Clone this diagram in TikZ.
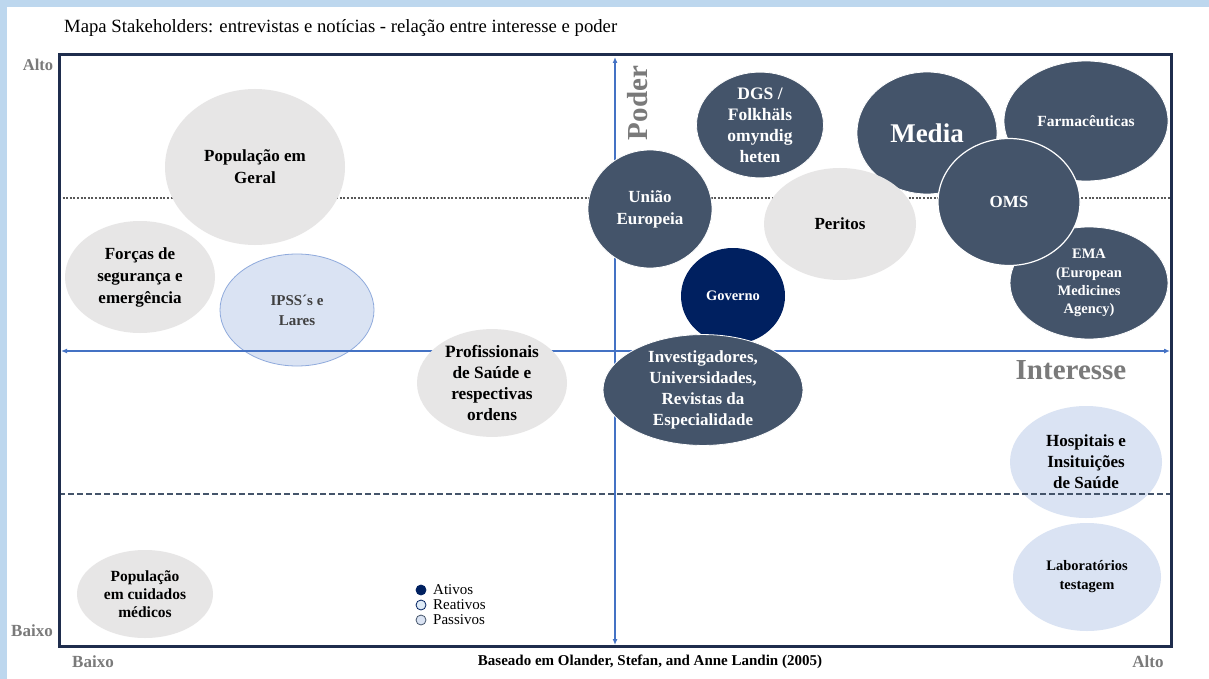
\documentclass[tikz,border=0pt]{standalone}
\usepackage{fontspec}
\setmainfont{Liberation Serif}
\usetikzlibrary{shapes.geometric,arrows.meta}
\definecolor{bandblue}{HTML}{BDD7EE}
\definecolor{navy}{HTML}{44546A}
\definecolor{govblue}{HTML}{002060}
\definecolor{lgray}{HTML}{E7E6E6}
\definecolor{lblue}{HTML}{DAE3F3}
\definecolor{lbluedraw}{HTML}{8FAADC}
\definecolor{framecol}{HTML}{1F2D4D}
\definecolor{axiscol}{HTML}{4472C4}
\definecolor{labgray}{HTML}{7A7A7A}
\definecolor{dotcol}{HTML}{595959}
\definecolor{reafill}{HTML}{DEEBF7}
\newcommand{\fs}[2]{\fontsize{#1}{#2}\selectfont}
\tikzset{
  ell/.style={ellipse, inner sep=0pt, align=center, font=\bfseries},
  grayell/.style={ell, fill=lgray, text=black},
  navyell/.style={ell, fill=navy, draw=white, line width=0.8pt, text=white},
  blueell/.style={ell, fill=lblue, text=black},
  axisline/.style={draw=axiscol, line width=1.5pt, {Latex[length=6pt,width=5pt]}-{Latex[length=6pt,width=5pt]}},
  sidelab/.style={font=\bfseries, text=labgray},
  legdot/.style={circle, minimum size=10pt, inner sep=0pt, line width=0.8pt},
  legtxt/.style={anchor=west, inner sep=0pt, font=\fs{15}{15}, text=black}
}
\begin{document}
\begin{tikzpicture}[x=1pt,y=-1pt]
\useasboundingbox (0,0) rectangle (1209,679);
\fill[bandblue] (0,0) rectangle (1209,679);
\fill[white] (7,7) rectangle (1209,679);

% dotted line
\coordinate (dotL) at (59,198);
\coordinate (dotR) at (1171,198);
\draw[dotcol, line width=2pt, dash pattern=on 2pt off 1.6pt] (dotL) -- (dotR);

% IPSS below axis
\node[blueell, draw=lbluedraw, line width=0.8pt, minimum width=154pt, minimum height=112pt, text=black!75, font=\bfseries\fs{15}{20}] (ipss) at (297,310) {IPSS´s e\\Lares};

% axes
\coordinate (vtop) at (615,57);
\coordinate (vbot) at (615,645);
\coordinate (hl) at (61,351);
\coordinate (hr) at (1170,351);
\draw[axisline] (vbot) -- (vtop);
\draw[axisline] (hl) -- (hr);

% ellipses
\node[grayell, minimum width=180pt, minimum height=156pt, font=\bfseries\fs{17}{22}] (popg) at (255,167) {População em\\Geral};
\node[grayell, minimum width=150pt, minimum height=112pt, font=\bfseries\fs{17}{22}] (forcas) at (140,277) {Forças de\\segurança e\\emergência};
\node[grayell, minimum width=150pt, minimum height=102pt, font=\bfseries\fs{17.3}{21.3}] (prof) at (492,383) {Profissionais\\de Saúde e\\respectivas\\ordens};
\node[grayell, minimum width=136pt, minimum height=88pt, font=\bfseries\fs{15.5}{18}] (popc) at (145,594) {População\\em cuidados\\médicos};
\node[navyell, minimum width=127pt, minimum height=102pt, font=\bfseries\fs{17.5}{21}] (dgs) at (760,125) {DGS /\\Folkhäls\\omyndig\\heten};
\node[navyell, minimum width=124pt, minimum height=118pt, font=\bfseries\fs{17}{22}] (ue) at (650,209) {União\\Europeia};
\node[navyell, minimum width=140pt, minimum height=122pt, font=\bfseries\fs{27}{30}] (media) at (927,133) {Media};
\node[grayell, minimum width=152pt, minimum height=112pt, font=\bfseries\fs{17}{21}] (peritos) at (840,224) {Peritos};
\node[ell, fill=govblue, text=white, minimum width=104pt, minimum height=96pt, font=\bfseries\fs{14.5}{18}] (gov) at (733,296) {Governo};
\node[navyell, minimum width=200pt, minimum height=102pt, font=\bfseries\fs{17}{21}] (inv) at (703,390) {Investigadores,\\Universidades,\\Revistas da\\Especialidade};
\node[navyell, minimum width=164pt, minimum height=120pt, font=\bfseries\fs{15.5}{19}] (farm) at (1086,121) {Farmacêuticas};
\node[navyell, minimum width=158pt, minimum height=112pt, font=\bfseries\fs{14.5}{18.3}] (ema) at (1089,283) {EMA\\(European\\Medicines\\Agency)};
\node[navyell, line width=1.2pt, minimum width=142pt, minimum height=127pt, font=\bfseries\fs{17}{21}] (oms) at (1009,202) {OMS};
\node[blueell, minimum width=152pt, minimum height=112pt, font=\bfseries\fs{17}{21}] (hosp) at (1086,462) {Hospitais e\\Insituições\\de Saúde};
\node[blueell, minimum width=148pt, minimum height=108pt, font=\bfseries\fs{14.5}{19}] (lab) at (1087,577) {Laboratórios\\testagem};

% dashed line
\coordinate (dashL) at (59,494);
\coordinate (dashR) at (1171,494);
\draw[navy, line width=1.5pt, dash pattern=on 6pt off 3pt] (dashL) -- (dashR);

% frame
\draw[framecol, line width=3pt] (59,55) rectangle (1171,646);

% texts
\node[anchor=west, inner sep=0pt, font=\fs{18.7}{20}] (title) at (64,28) {Mapa Stakeholders: entrevistas e notícias - relação entre interesse e poder};
\node[sidelab, font=\bfseries\fs{16.5}{18}] (altoL) at (38,65) {Alto};
\node[sidelab, font=\bfseries\fs{17}{18}] (baixoL) at (32,631) {Baixo};
\node[sidelab, font=\bfseries\fs{17}{18}] (baixoB) at (93,662) {Baixo};
\node[sidelab, font=\bfseries\fs{17}{18}] (altoB) at (1148,662) {Alto};
\node[font=\bfseries\fs{15}{16}] (src) at (650,662) {Baseado em Olander, Stefan, and Anne Landin (2005)};
\node[sidelab, rotate=90, font=\bfseries\fs{29}{30}] (poder) at (638,103) {Poder};
\node[sidelab, font=\bfseries\fs{29}{30}] (interesse) at (1071,370) {Interesse};

% legend
\node[legdot, fill=govblue, draw=govblue] (d1) at (421,590) {};
\node[legdot, fill=reafill, draw=govblue] (d2) at (421,605) {};
\node[legdot, fill=lblue, draw=navy] (d3) at (421,620) {};
\node[legtxt] (t1) at (433,590) {Ativos};
\node[legtxt] (t2) at (433,605) {Reativos};
\node[legtxt] (t3) at (433,620) {Passivos};
\end{tikzpicture}
\end{document}
